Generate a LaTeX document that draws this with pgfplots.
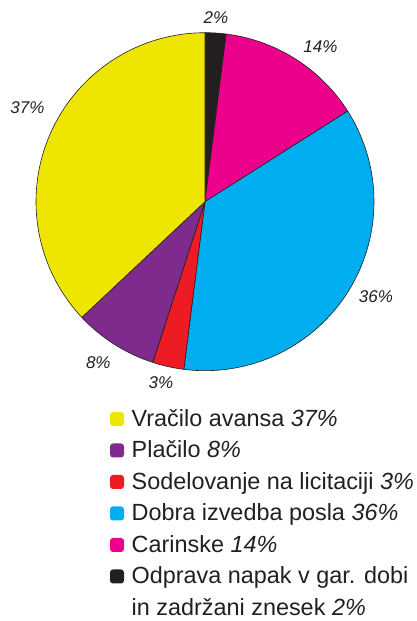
\documentclass[border=0pt]{standalone}
\usepackage{pgfplots}
\pgfplotsset{compat=1.18}
\usepackage{fontspec}
\setmainfont{Liberation Sans}
\definecolor{cyel}{RGB}{238,230,0}
\definecolor{cpur}{RGB}{127,43,142}
\definecolor{cred}{RGB}{237,28,36}
\definecolor{cblu}{RGB}{0,174,239}
\definecolor{cpnk}{RGB}{236,0,140}
\definecolor{cblk}{RGB}{35,31,32}
\definecolor{ctxt}{RGB}{35,31,32}
\begin{document}
\begin{tikzpicture}
% shares in percent, clockwise from the top
\def\vBlk{2}\def\vPnk{14}\def\vBlu{36}\def\vRed{3}\def\vPur{8}\def\vYel{37}
\def\cx{205}\def\cy{419.3}\def\pieR{169}
\pgfmathsetmacro\aA{90}
\pgfmathsetmacro\aB{\aA-3.6*\vBlk}
\pgfmathsetmacro\aC{\aB-3.6*\vPnk}
\pgfmathsetmacro\aD{\aC-3.6*\vBlu}
\pgfmathsetmacro\aE{\aD-3.6*\vRed}
\pgfmathsetmacro\aF{\aE-3.6*\vPur}
\pgfmathsetmacro\aG{\aF-3.6*\vYel}
\begin{axis}[width=417bp,height=621bp,scale only axis,
  xmin=0,xmax=417,ymin=0,ymax=621,hide axis,clip=false]
\coordinate (SW) at (rel axis cs:0,0);
\coordinate (NE) at (rel axis cs:1,1);
\pgfplotsset{pie/.style={draw=cblk,line width=0.6bp,samples=120,line join=round}}
\addplot[pie,fill=cblk,domain=\aB:\aA] ({\cx+\pieR*cos(x)},{\cy+\pieR*sin(x)}) -- (axis cs:\cx,\cy) -- cycle;
\addplot[pie,fill=cpnk,domain=\aC:\aB] ({\cx+\pieR*cos(x)},{\cy+\pieR*sin(x)}) -- (axis cs:\cx,\cy) -- cycle;
\addplot[pie,fill=cblu,domain=\aD:\aC] ({\cx+\pieR*cos(x)},{\cy+\pieR*sin(x)}) -- (axis cs:\cx,\cy) -- cycle;
\addplot[pie,fill=cred,domain=\aE:\aD] ({\cx+\pieR*cos(x)},{\cy+\pieR*sin(x)}) -- (axis cs:\cx,\cy) -- cycle;
\addplot[pie,fill=cpur,domain=\aF:\aE] ({\cx+\pieR*cos(x)},{\cy+\pieR*sin(x)}) -- (axis cs:\cx,\cy) -- cycle;
\addplot[pie,fill=cyel,domain=\aG:\aF] ({\cx+\pieR*cos(x)},{\cy+\pieR*sin(x)}) -- (axis cs:\cx,\cy) -- cycle;
% slice labels
\tikzset{pl/.style={font=\fontsize{17bp}{20bp}\selectfont\itshape,text=ctxt,inner sep=0pt,anchor=center}}
\node[pl] at (axis cs:216,603.2) {2\%};
\node[pl] at (axis cs:320.5,574.3) {14\%};
\node[pl] at (axis cs:376,324.3) {36\%};
\node[pl] at (axis cs:161,238) {3\%};
\node[pl] at (axis cs:98.3,258) {8\%};
\node[pl] at (axis cs:27.5,513) {37\%};
% legend swatches (14 x 14, rounded)
\pgfplotsset{lm/.style={draw=none,fill=#1,mark=none,rounded corners=3bp}}
\addplot[lm=cyel] coordinates {(110,195) (124,195) (124,209) (110,209)} -- cycle;
\addplot[lm=cpur] coordinates {(110,163.5) (124,163.5) (124,177.5) (110,177.5)} -- cycle;
\addplot[lm=cred] coordinates {(110,132) (124,132) (124,146) (110,146)} -- cycle;
\addplot[lm=cblu] coordinates {(110,100.5) (124,100.5) (124,114.5) (110,114.5)} -- cycle;
\addplot[lm=cpnk] coordinates {(110,69) (124,69) (124,83) (110,83)} -- cycle;
\addplot[lm=cblk] coordinates {(110,37.5) (124,37.5) (124,51.5) (110,51.5)} -- cycle;
\tikzset{lt/.style={font=\fontsize{23.4bp}{31.5bp}\selectfont,text=ctxt,inner sep=0pt,anchor=base west}}
\node[lt] at (axis cs:131.5,194.5) {Vračilo avansa \textit{37\%}};
\node[lt] at (axis cs:131.5,163) {Plačilo \textit{8\%}};
\node[lt] at (axis cs:131.5,131.5) {Sodelovanje na licitaciji \textit{3\%}};
\node[lt] at (axis cs:131.5,100) {Dobra izvedba posla \textit{36\%}};
\node[lt] at (axis cs:131.5,68.5) {Carinske \textit{14\%}};
\node[lt] at (axis cs:131.5,37) {Odprava napak v gar. dobi};
\node[lt] at (axis cs:131.5,5.5) {in zadržani znesek \textit{2\%}};
\end{axis}
\pgfresetboundingbox
\path[use as bounding box] (SW) rectangle (NE);
\end{tikzpicture}
\end{document}
